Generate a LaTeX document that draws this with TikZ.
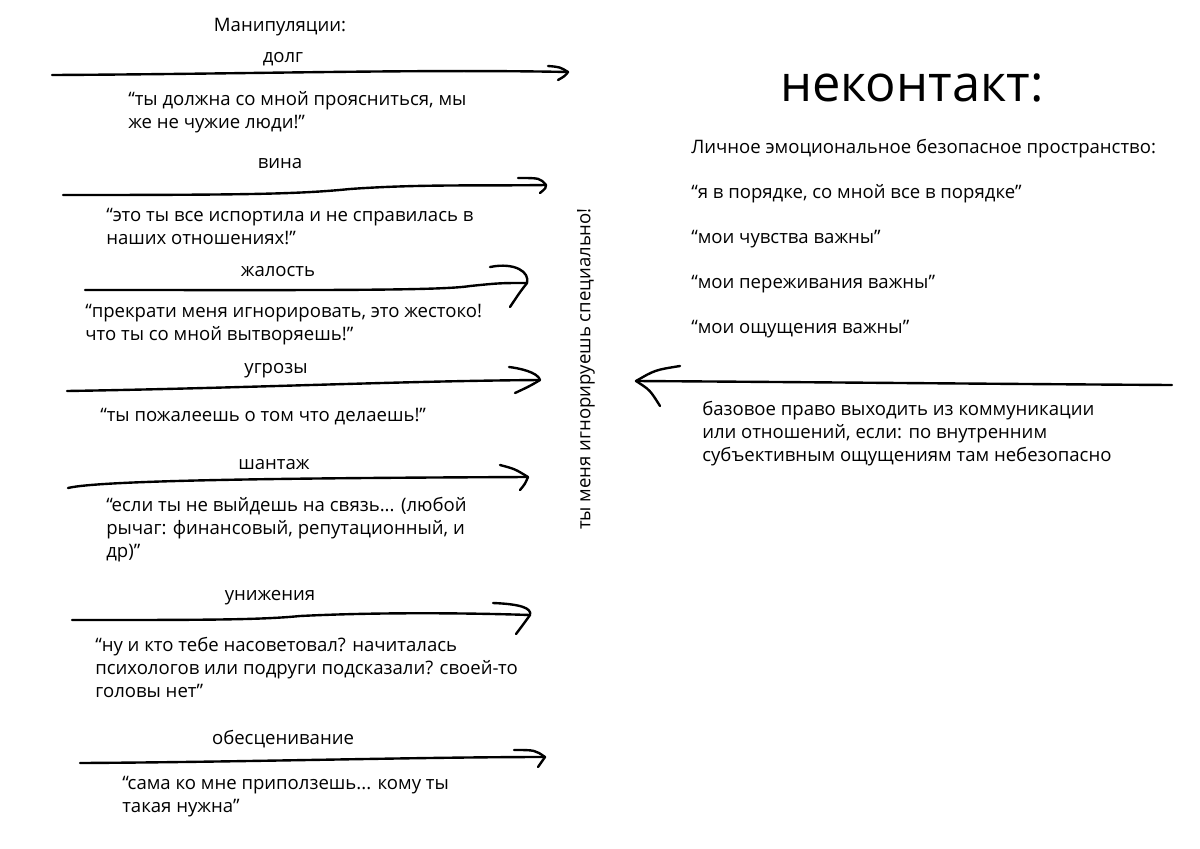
\documentclass[tikz,border=0pt]{standalone}
\usepackage{fontspec}
\setmainfont{Open Sans}
\usetikzlibrary{positioning}

\begin{document}
\begin{tikzpicture}[
    x=0.025cm, y=-0.025cm,
    txt/.style={inner sep=0pt, anchor=base west, align=left, font=\fontsize{13.2}{16.3}\selectfont},
    lbl/.style={inner sep=0pt, anchor=base, font=\fontsize{13.2}{16.3}\selectfont},
    hand/.style={line width=1.7pt, line cap=round, line join=round}
]
\fill[white] (0,0) rectangle (1200,848);
\useasboundingbox (0,0) rectangle (1200,848);

% left column: manipulations (quote nodes sit on the baseline of their last line)
\node[lbl] (head) at (280,31) {Манипуляции:};

\node[lbl] (dolg) at (283,62) {долг};
\coordinate (dolgS) at (52,75);
\coordinate (dolgE) at (568,72);
\draw[hand] (dolgS) .. controls (250,74) and (420,69) .. (dolgE);
\draw[hand] (548,66) .. controls (560,67) .. (dolgE) .. controls (565,76) .. (558,80);
\node[txt] (dolgq) at (128,128) {“ты должна со мной проясниться, мы\\же не чужие люди!”};

\node[lbl] (vina) at (280,168) {вина};
\coordinate (vinaS) at (63,195);
\coordinate (vinaE) at (546,185);
\draw[hand] (vinaS) .. controls (250,195) and (300,194) .. (350,189) .. controls (420,184) and (480,186) .. (vinaE);
\draw[hand] (518,178) .. controls (540,178) .. (vinaE) .. controls (546,188) .. (540,193);
\node[txt] (vinaq) at (106,244) {“это ты все испортила и не справилась в\\наших отношениях!”};

\node[lbl] (zhal) at (278,276) {жалость};
\coordinate (zhalS) at (85,290);
\coordinate (zhalE) at (527,283);
\draw[hand] (zhalS) .. controls (300,290) and (440,291) .. (470,286) .. controls (500,283) .. (zhalE);
\draw[hand] (490,267) .. controls (515,262) and (530,272) .. (zhalE) .. controls (520,292) .. (510,307);
\node[txt] (zhalq) at (85,340) {“прекрати меня игнорировать, это жестоко!\\что ты со мной вытворяешь!”};

\node[lbl] (ugr) at (276,373) {угрозы};
\coordinate (ugrS) at (67,391);
\coordinate (ugrE) at (540,380);
\draw[hand] (ugrS) .. controls (250,388) and (400,381) .. (ugrE);
\draw[hand] (509,367) .. controls (518,368) and (538,372) .. (ugrE) .. controls (530,386) .. (515,393);
\node[txt] (ugrq) at (100,421) {“ты пожалеешь о том что делаешь!”};

\node[lbl] (shan) at (274,469) {шантаж};
\coordinate (shanS) at (68,488);
\coordinate (shanE) at (528,477);
\draw[hand] (shanS) .. controls (100,480) and (300,478) .. (shanE);
\draw[hand] (500,465) .. controls (515,469) .. (shanE) .. controls (525,484) .. (520,490);
\node[txt] (shanq) at (106,557) {“если ты не выйдешь на связь... (любой\\рычаг: финансовый, репутационный, и\\др)”};

\node[lbl] (unizh) at (270,600) {унижения};
\coordinate (unizhS) at (72,620);
\coordinate (unizhE) at (530,615);
\draw[hand] (unizhS) .. controls (200,620) and (260,620) .. (300,616) .. controls (380,612) and (470,613) .. (unizhE);
\draw[hand] (493,603) .. controls (520,604) and (532,608) .. (unizhE) .. controls (525,622) .. (516,634);
\node[txt] (unizhq) at (95,697) {“ну и кто тебе насоветовал? начиталась\\психологов или подруги подсказали? своей-то\\головы нет”};

\node[lbl] (obes) at (283,744) {обесценивание};
\coordinate (obesS) at (80,763);
\coordinate (obesE) at (545,757);
\draw[hand] (obesS) .. controls (250,762) and (420,757) .. (obesE);
\draw[hand] (514,750) .. controls (535,750) .. (obesE) .. controls (542,762) .. (538,767);
\node[txt] (obesq) at (122,812) {“сама ко мне приползешь... кому ты\\такая нужна”};

% middle
\node[lbl, anchor=center, rotate=90] (ignor) at (586,369) {ты меня игнорируешь специально!};

% right column
\node[inner sep=0pt, anchor=base, font=\fontsize{36}{42}\selectfont] (title) at (912,101) {неконтакт:};
\node[txt] (space) at (691,153) {Личное эмоциональное безопасное пространство:};
\node[txt] (ok) at (691,198) {“я в порядке, со мной все в порядке”};
\node[txt] (feel) at (691,243) {“мои чувства важны”};
\node[txt] (exp) at (691,288) {“мои переживания важны”};
\node[txt] (sens) at (691,333) {“мои ощущения важны”};

\coordinate (rightS) at (1172,385);
\coordinate (rightE) at (636,381);
\draw[hand] (rightS) .. controls (1000,384) and (800,382) .. (rightE);
\draw[hand] (680,366) .. controls (655,370) .. (rightE) .. controls (650,390) .. (660,406);
\node[txt] (right) at (702,461) {базовое право выходить из коммуникации\\или отношений, если: по внутренним\\субъективным ощущениям там небезопасно};
\end{tikzpicture}
\end{document}
